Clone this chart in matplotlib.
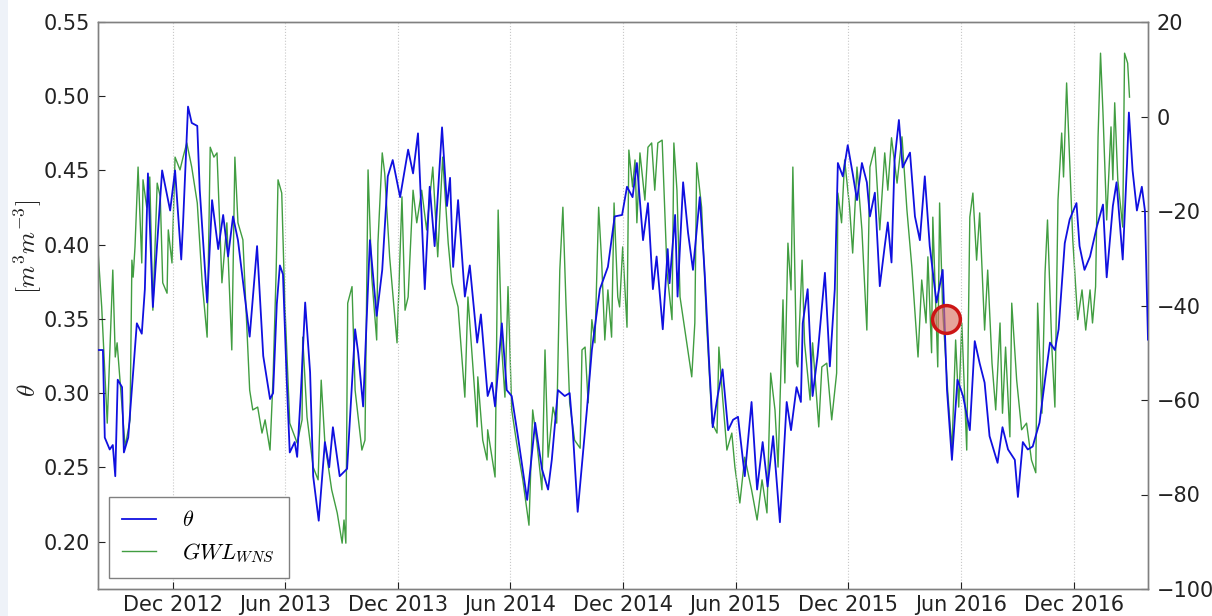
import matplotlib
matplotlib.use("Agg")
import matplotlib.pyplot as plt
import matplotlib.dates as mdates
import pandas as pd
from matplotlib.patches import Rectangle

plt.rcParams["mathtext.fontset"] = "cm"

# ---------------- data (days since 2012-08-01) ----------------
start_date = "2012-08-01"

theta_days = [0, 8, 11, 19, 24, 28, 32, 39, 42, 49, 63, 71, 76, 81, 89, 104, 117, 125, 135, 138,
              146, 152, 161, 165, 177, 185, 195, 203, 211, 219, 227, 246, 258, 268, 279, 284, 290,
              295, 300, 306, 311, 319, 323, 329, 336, 344, 349, 358, 368, 375, 381, 392, 404, 417,
              422, 430, 441, 452, 461, 470, 478, 490, 503, 511, 519, 530, 538, 546, 558, 566, 571,
              576, 584, 595, 603, 615, 621, 632, 639, 644, 655, 663, 671, 681, 696, 709, 720, 730,
              736, 746, 757, 765, 770, 778, 793, 801, 814, 827, 838, 850, 858, 867, 874, 884, 892,
              900, 906, 916, 924, 927, 936, 940, 949, 957, 965, 976, 984, 992, 997, 1005, 1013,
              1022, 1030, 1038, 1049, 1060, 1069, 1078, 1086, 1095, 1106, 1117, 1124, 1133, 1140,
              1143, 1151, 1159, 1167, 1179, 1187, 1195, 1200, 1208, 1216, 1224, 1231, 1239, 1247,
              1252, 1260, 1268, 1276, 1281, 1287, 1292, 1299, 1305, 1317, 1325, 1333, 1341, 1349,
              1360, 1370, 1377, 1385, 1394, 1403, 1414, 1422, 1430, 1438, 1446, 1459, 1467, 1476,
              1487, 1492, 1500, 1508, 1516, 1527, 1536, 1544, 1552, 1558, 1568, 1576, 1587, 1592,
              1600, 1609, 1620, 1630, 1636, 1646, 1652, 1662, 1669, 1672, 1678, 1685, 1693, 1698,
              1703]
theta_vals = [0.329, 0.329, 0.270, 0.262, 0.265, 0.244, 0.309, 0.304, 0.260, 0.270, 0.347, 0.340,
              0.370, 0.448, 0.358, 0.450, 0.423, 0.450, 0.390, 0.415, 0.493, 0.482, 0.480, 0.437,
              0.361, 0.430, 0.397, 0.420, 0.392, 0.419, 0.403, 0.338, 0.399, 0.325, 0.296, 0.300,
              0.360, 0.386, 0.380, 0.310, 0.260, 0.267, 0.257, 0.300, 0.361, 0.314, 0.244, 0.214,
              0.267, 0.250, 0.277, 0.244, 0.249, 0.343, 0.327, 0.291, 0.403, 0.352, 0.383, 0.446,
              0.457, 0.432, 0.464, 0.448, 0.475, 0.370, 0.439, 0.399, 0.479, 0.426, 0.445, 0.385,
              0.430, 0.365, 0.386, 0.334, 0.353, 0.298, 0.307, 0.291, 0.347, 0.302, 0.298, 0.271,
              0.228, 0.280, 0.249, 0.235, 0.255, 0.302, 0.298, 0.300, 0.275, 0.220, 0.289, 0.329,
              0.370, 0.385, 0.419, 0.420, 0.439, 0.432, 0.455, 0.403, 0.428, 0.370, 0.392, 0.343,
              0.397, 0.374, 0.420, 0.365, 0.442, 0.408, 0.383, 0.432, 0.381, 0.314, 0.277, 0.298,
              0.316, 0.275, 0.282, 0.284, 0.244, 0.294, 0.235, 0.267, 0.237, 0.271, 0.213, 0.294,
              0.275, 0.304, 0.294, 0.347, 0.370, 0.298, 0.325, 0.381, 0.318, 0.370, 0.455, 0.446,
              0.467, 0.448, 0.430, 0.455, 0.442, 0.419, 0.435, 0.372, 0.399, 0.415, 0.388, 0.457,
              0.484, 0.452, 0.462, 0.419, 0.403, 0.446, 0.399, 0.361, 0.383, 0.302, 0.255, 0.309,
              0.298, 0.275, 0.335, 0.320, 0.307, 0.271, 0.253, 0.277, 0.262, 0.255, 0.230, 0.267,
              0.262, 0.264, 0.280, 0.309, 0.334, 0.329, 0.343, 0.401, 0.417, 0.428, 0.399, 0.383,
              0.392, 0.412, 0.427, 0.378, 0.426, 0.442, 0.390, 0.455, 0.489, 0.450, 0.423, 0.439,
              0.423, 0.336]

gwl_days = [0, 6, 15, 24, 28, 31, 44, 52, 55, 57, 60, 65, 71, 73, 79, 84, 89, 96, 101, 105, 112,
            114, 120, 125, 133, 138, 144, 152, 161, 169, 177, 182, 188, 193, 201, 209, 217, 222,
            227, 235, 246, 251, 259, 266, 271, 279, 284, 289, 292, 298, 303, 311, 323, 331, 332,
            339, 349, 357, 362, 368, 379, 388, 396, 399, 402, 405, 412, 417, 428, 433, 438, 444,
            452, 454, 461, 465, 473, 485, 493, 498, 503, 511, 517, 525, 533, 543, 551, 559, 568,
            574, 584, 595, 600, 615, 616, 624, 631, 632, 644, 649, 655, 660, 665, 671, 679, 689,
            699, 705, 712, 720, 725, 730, 738, 744, 749, 754, 759, 765, 773, 782, 785, 790, 795,
            801, 806, 812, 817, 822, 827, 833, 837, 843, 846, 851, 858, 861, 867, 871, 874, 879,
            887, 892, 898, 903, 908, 915, 923, 931, 934, 939, 944, 963, 968, 971, 979, 987, 996,
            1004, 1007, 1013, 1020, 1028, 1033, 1041, 1049, 1060, 1069, 1077, 1085, 1091, 1098,
            1103, 1111, 1114, 1119, 1124, 1127, 1133, 1135, 1142, 1146, 1155, 1159, 1169, 1174,
            1182, 1190, 1198, 1200, 1206, 1211, 1219, 1224, 1231, 1239, 1247, 1252, 1260, 1268,
            1276, 1281, 1287, 1296, 1304, 1312, 1320, 1330, 1336, 1343, 1346, 1352, 1354, 1362,
            1365, 1370, 1378, 1385, 1391, 1396, 1401, 1409, 1414, 1419, 1425, 1430, 1438, 1443,
            1450, 1456, 1463, 1467, 1472, 1479, 1482, 1490, 1498, 1506, 1514, 1521, 1524, 1531,
            1536, 1540, 1547, 1552, 1557, 1563, 1566, 1571, 1574, 1581, 1589, 1596, 1602, 1609,
            1613, 1618, 1622, 1626, 1630, 1636, 1643, 1646, 1649, 1654, 1662, 1665, 1670, 1673]
gwl_vals = [-28.3, -40.3, -64.9, -32.5, -50.9, -47.9, -69.9, -64.2, -30.4, -34.0, -27.6, -10.7,
            -31.0, -13.4, -19.2, -12.8, -41.0, -14.1, -17.0, -35.2, -37.4, -24.0, -31.0, -8.6,
            -11.3, -8.6, -5.6, -10.7, -18.3, -35.2, -46.7, -6.5, -8.6, -7.7, -35.2, -22.5, -49.4,
            -8.6, -22.5, -26.1, -57.9, -62.1, -61.5, -67.0, -64.2, -70.6, -55.1, -32.5, -13.4,
            -16.2, -39.5, -64.9, -69.1, -64.2, -46.7, -63.6, -74.2, -76.9, -55.8, -69.1, -79.0,
            -83.9, -90.3, -85.4, -90.3, -39.5, -36.0, -57.9, -70.6, -68.5, -11.3, -34.0, -47.3,
            -26.8, -7.7, -12.0, -29.7, -47.9, -17.0, -41.0, -38.2, -15.6, -22.5, -15.6, -24.0,
            -10.7, -29.7, -8.6, -26.8, -35.2, -40.3, -59.4, -38.2, -65.7, -55.1, -68.5, -72.7,
            -66.3, -76.3, -19.8, -49.4, -59.4, -36.0, -62.1, -69.1, -76.9, -86.5, -62.1, -69.1,
            -79.0, -49.4, -72.1, -61.5, -64.9, -32.5, -19.2, -39.5, -60.6, -68.5, -70.2, -49.4,
            -48.8, -60.6, -43.0, -47.9, -19.2, -31.0, -47.3, -36.7, -46.7, -18.3, -38.2, -40.3,
            -27.6, -44.6, -7.1, -14.9, -9.2, -22.5, -7.7, -17.7, -6.5, -5.6, -15.6, -5.6, -5.0,
            -33.1, -43.0, -5.6, -15.6, -38.2, -55.1, -43.7, -9.8, -19.2, -43.7, -64.9, -67.0,
            -48.8, -59.4, -70.6, -67.0, -74.2, -81.8, -72.1, -79.0, -85.4, -76.9, -83.9, -54.3,
            -62.1, -74.2, -38.8, -56.4, -26.8, -36.7, -10.7, -52.2, -53.0, -30.4, -47.9, -60.0,
            -47.9, -65.7, -53.0, -52.2, -64.2, -54.3, -16.2, -22.5, -9.2, -19.2, -28.9, -10.7,
            -24.0, -45.2, -10.7, -6.5, -24.0, -7.7, -15.6, -4.5, -14.1, -4.3, -19.8, -31.9, -50.9,
            -34.6, -43.7, -29.7, -50.0, -21.3, -53.0, -18.3, -41.0, -57.9, -70.6, -47.3, -61.5,
            -43.7, -70.6, -21.3, -16.2, -30.4, -20.4, -45.2, -32.5, -52.2, -62.1, -43.7, -62.8,
            -48.8, -67.8, -39.5, -55.8, -66.3, -64.9, -72.7, -75.4, -39.5, -62.8, -33.1, -21.9,
            -48.8, -61.5, -17.7, -3.5, -12.8, 7.1, -2.9, -26.1, -43.0, -36.7, -45.2, -36.7, -43.7,
            -36.0, -4.3, 13.4, 0.7, -21.9, -2.2, -13.4, 2.9, -13.4, -23.4, 13.4, 11.3, 4.1]

marker_day = 1375
marker_theta = 0.35

theta_ticks = [0.20, 0.25, 0.30, 0.35, 0.40, 0.45, 0.50, 0.55]
gwl_ticks = [-100, -80, -60, -40, -20, 0, 20]
x_range_days = [0, 1703]

# ---------------- plotting ----------------
t0 = pd.Timestamp(start_date)
theta_dates = t0 + pd.to_timedelta(theta_days, unit="D")
gwl_dates = t0 + pd.to_timedelta(gwl_days, unit="D")
marker_date = t0 + pd.Timedelta(days=marker_day)

fig = plt.figure(figsize=(12.12, 6.16), dpi=100)
fig.patches.append(Rectangle((0, 0), 8 / 1212, 1, transform=fig.transFigure,
                             facecolor="#eef2f8", edgecolor="none", zorder=-10))
ax = fig.add_axes([98 / 1212, 1 - 589 / 616, 1050 / 1212, 567 / 616])
ax2 = ax.twinx()

l1, = ax.plot(theta_dates, theta_vals, color="#1010e0", lw=1.3, label=r"$\theta$", zorder=3)
l2, = ax2.plot(gwl_dates, gwl_vals, color="#1f8c1f", lw=1.0, alpha=0.85,
               label=r"$GWL_{WNS}$", zorder=2)
ax.set_zorder(ax2.get_zorder() + 1)
ax.patch.set_visible(False)

ax.plot([marker_date], [marker_theta], "o", ms=20, mfc=(0.85, 0.45, 0.40, 0.65),
        mec="#cc1515", mew=2.5, zorder=5)

ax.set_xlim(t0 + pd.Timedelta(days=x_range_days[0]), t0 + pd.Timedelta(days=x_range_days[1]))
ax.set_ylim(0.168, 0.55)
ax.set_yticks(theta_ticks)
ax.set_yticklabels([f"{v:.2f}" for v in theta_ticks])
ax2.set_ylim(-100, 20)
ax2.set_yticks(gwl_ticks)
ax2.set_yticklabels([str(v).replace("-", "\u2212") for v in gwl_ticks])

ax.xaxis.set_major_locator(mdates.MonthLocator(bymonth=[6, 12]))
ax.xaxis.set_major_formatter(mdates.DateFormatter("%b %Y"))
ax.grid(axis="x", color="#c8c8c8", linestyle=":", lw=0.8)

for a in (ax, ax2):
    for s in a.spines.values():
        s.set_color("#808080")
        s.set_linewidth(1.0)
    a.tick_params(labelsize=15, colors="#222222", direction="in", length=5, width=0.8)
ax.tick_params(axis="x", pad=4)
ax.tick_params(axis="y", pad=6)
ax2.tick_params(axis="y", pad=6)

fig.text(28 / 1212, 1 - 390 / 616, r"$\theta$", rotation=90, fontsize=18,
         ha="center", va="center", color="#222222")
fig.text(28 / 1212, 1 - 247 / 616, r"$[m^3m^{-3}]$", rotation=90, fontsize=18,
         ha="center", va="center", color="#222222")

leg = ax.legend(handles=[l1, l2], loc="lower left", fontsize=16, handlelength=1.5,
                fancybox=False, framealpha=1, edgecolor="#808080", borderpad=0.6,
                handletextpad=1.2)
leg.get_frame().set_linewidth(1.0)

fig.savefig("out.png", dpi=100)
